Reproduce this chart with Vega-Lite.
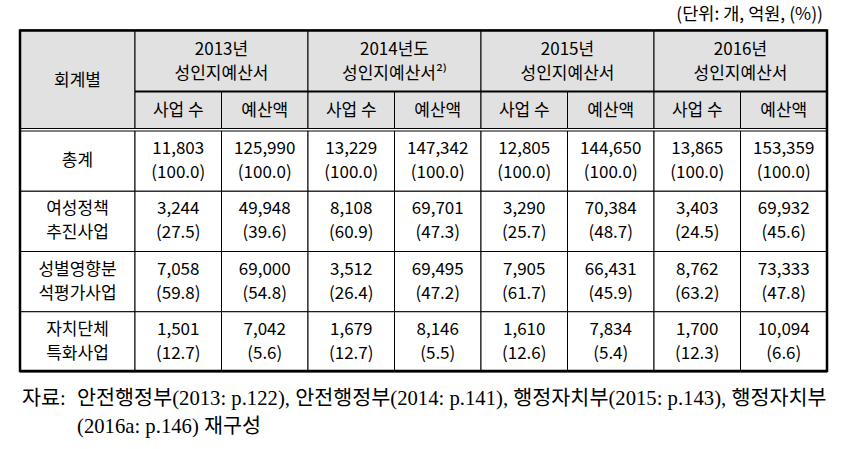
{
  "$schema": "https://vega.github.io/schema/vega-lite/v6.json",
  "width": 846,
  "height": 449,
  "padding": 0,
  "autosize": {"type": "none"},
  "background": "#ffffff",
  "config": {
    "view": {"stroke": null},
    "text": {"font": "Noto Sans CJK KR", "fontSize": 17, "color": "#000000", "baseline": "middle", "lineHeight": 24}
  },
  "datasets": {
    "cells": [
      {"group": "총계", "year": "2013", "measure": "사업 수", "value": 11803, "share": "(100.0)"},
      {"group": "총계", "year": "2013", "measure": "예산액", "value": 125990, "share": "(100.0)"},
      {"group": "총계", "year": "2014", "measure": "사업 수", "value": 13229, "share": "(100.0)"},
      {"group": "총계", "year": "2014", "measure": "예산액", "value": 147342, "share": "(100.0)"},
      {"group": "총계", "year": "2015", "measure": "사업 수", "value": 12805, "share": "(100.0)"},
      {"group": "총계", "year": "2015", "measure": "예산액", "value": 144650, "share": "(100.0)"},
      {"group": "총계", "year": "2016", "measure": "사업 수", "value": 13865, "share": "(100.0)"},
      {"group": "총계", "year": "2016", "measure": "예산액", "value": 153359, "share": "(100.0)"},
      {"group": "여성정책추진사업", "year": "2013", "measure": "사업 수", "value": 3244, "share": "(27.5)"},
      {"group": "여성정책추진사업", "year": "2013", "measure": "예산액", "value": 49948, "share": "(39.6)"},
      {"group": "여성정책추진사업", "year": "2014", "measure": "사업 수", "value": 8108, "share": "(60.9)"},
      {"group": "여성정책추진사업", "year": "2014", "measure": "예산액", "value": 69701, "share": "(47.3)"},
      {"group": "여성정책추진사업", "year": "2015", "measure": "사업 수", "value": 3290, "share": "(25.7)"},
      {"group": "여성정책추진사업", "year": "2015", "measure": "예산액", "value": 70384, "share": "(48.7)"},
      {"group": "여성정책추진사업", "year": "2016", "measure": "사업 수", "value": 3403, "share": "(24.5)"},
      {"group": "여성정책추진사업", "year": "2016", "measure": "예산액", "value": 69932, "share": "(45.6)"},
      {"group": "성별영향분석평가사업", "year": "2013", "measure": "사업 수", "value": 7058, "share": "(59.8)"},
      {"group": "성별영향분석평가사업", "year": "2013", "measure": "예산액", "value": 69000, "share": "(54.8)"},
      {"group": "성별영향분석평가사업", "year": "2014", "measure": "사업 수", "value": 3512, "share": "(26.4)"},
      {"group": "성별영향분석평가사업", "year": "2014", "measure": "예산액", "value": 69495, "share": "(47.2)"},
      {"group": "성별영향분석평가사업", "year": "2015", "measure": "사업 수", "value": 7905, "share": "(61.7)"},
      {"group": "성별영향분석평가사업", "year": "2015", "measure": "예산액", "value": 66431, "share": "(45.9)"},
      {"group": "성별영향분석평가사업", "year": "2016", "measure": "사업 수", "value": 8762, "share": "(63.2)"},
      {"group": "성별영향분석평가사업", "year": "2016", "measure": "예산액", "value": 73333, "share": "(47.8)"},
      {"group": "자치단체특화사업", "year": "2013", "measure": "사업 수", "value": 1501, "share": "(12.7)"},
      {"group": "자치단체특화사업", "year": "2013", "measure": "예산액", "value": 7042, "share": "(5.6)"},
      {"group": "자치단체특화사업", "year": "2014", "measure": "사업 수", "value": 1679, "share": "(12.7)"},
      {"group": "자치단체특화사업", "year": "2014", "measure": "예산액", "value": 8146, "share": "(5.5)"},
      {"group": "자치단체특화사업", "year": "2015", "measure": "사업 수", "value": 1610, "share": "(12.6)"},
      {"group": "자치단체특화사업", "year": "2015", "measure": "예산액", "value": 7834, "share": "(5.4)"},
      {"group": "자치단체특화사업", "year": "2016", "measure": "사업 수", "value": 1700, "share": "(12.3)"},
      {"group": "자치단체특화사업", "year": "2016", "measure": "예산액", "value": 10094, "share": "(6.6)"}
    ],
    "years": [
      {"year": "2013", "label": ["2013년", "성인지예산서"]},
      {"year": "2014", "label": ["2014년도", "성인지예산서²⁾"]},
      {"year": "2015", "label": ["2015년", "성인지예산서"]},
      {"year": "2016", "label": ["2016년", "성인지예산서"]}
    ],
    "groups": [
      {"group": "총계", "label": ["총계"]},
      {"group": "여성정책추진사업", "label": ["여성정책", "추진사업"]},
      {"group": "성별영향분석평가사업", "label": ["성별영향분", "석평가사업"]},
      {"group": "자치단체특화사업", "label": ["자치단체", "특화사업"]}
    ],
    "unit": [{"part": "단위", "text": "(단위: 개, 억원, (%))"}],
    "notes": [
      {"part": "자료:", "text": ["자료:"]},
      {"part": "본문", "text": ["안전행정부(2013: p.122), 안전행정부(2014: p.141), 행정자치부(2015: p.143), 행정자치부", "(2016a: p.146) 재구성"]}
    ]
  },
  "layer": [
    {
      "data": {"values": [{"head": "회계별"}]},
      "encoding": {
        "x": {"field": "head", "type": "nominal", "axis": null, "scale": {"domain": ["회계별"], "range": [20, 135], "paddingInner": 0, "paddingOuter": 0}},
        "y": {"field": "head", "type": "nominal", "axis": null, "scale": {"domain": ["회계별"], "range": [30, 128.5], "paddingInner": 0, "paddingOuter": 0}}
      },
      "layer": [
        {"mark": {"type": "rect", "fill": "#e1e1e1", "stroke": "#000000", "strokeWidth": 1}},
        {"mark": {"type": "text", "dy": 2}, "encoding": {"text": {"field": "head"}}}
      ]
    },
    {
      "data": {"name": "years"},
      "encoding": {
        "x": {"field": "year", "type": "nominal", "axis": null, "scale": {"domain": ["2013", "2014", "2015", "2016"], "range": [135, 827], "paddingInner": 0, "paddingOuter": 0}},
        "y": {"datum": "연도", "type": "nominal", "axis": null, "scale": {"domain": ["연도"], "range": [30, 91.5], "paddingInner": 0, "paddingOuter": 0}}
      },
      "layer": [
        {"mark": {"type": "rect", "fill": "#e1e1e1", "stroke": "#000000", "strokeWidth": 1}},
        {"mark": {"type": "text", "dy": -11}, "encoding": {"text": {"field": "label"}}}
      ]
    },
    {
      "data": {"name": "cells"},
      "transform": [{"filter": {"field": "group", "equal": "총계"}}],
      "encoding": {
        "x": {"field": "year", "type": "nominal", "axis": null, "scale": {"domain": ["2013", "2014", "2015", "2016"], "range": [135, 827], "paddingInner": 0, "paddingOuter": 0}},
        "xOffset": {"field": "measure", "type": "nominal", "scale": {"domain": ["사업 수", "예산액"], "paddingInner": 0, "paddingOuter": 0}},
        "y": {"datum": "구분", "type": "nominal", "axis": null, "scale": {"domain": ["구분"], "range": [91.5, 128.5], "paddingInner": 0, "paddingOuter": 0}}
      },
      "layer": [
        {"mark": {"type": "rect", "fill": "#e1e1e1", "stroke": "#000000", "strokeWidth": 1}},
        {"mark": {"type": "text", "dy": 1}, "encoding": {"text": {"field": "measure"}}}
      ]
    },
    {
      "data": {"name": "years"},
      "mark": {"type": "rect", "fill": "#000000"},
      "encoding": {
        "x": {"field": "year", "type": "nominal", "axis": null, "scale": {"domain": ["2013", "2014", "2015", "2016"], "range": [135, 827], "paddingInner": 0, "paddingOuter": 0}},
        "y": {"datum": "선", "type": "nominal", "axis": null, "scale": {"domain": ["선"], "range": [90.5, 92.5], "paddingInner": 0, "paddingOuter": 0}}
      }
    },
    {
      "data": {"name": "groups"},
      "encoding": {
        "x": {"datum": "회계별", "type": "nominal", "axis": null, "scale": {"domain": ["회계별"], "range": [20, 135], "paddingInner": 0, "paddingOuter": 0}},
        "y": {"field": "group", "type": "nominal", "axis": null, "scale": {"domain": ["총계", "여성정책추진사업", "성별영향분석평가사업", "자치단체특화사업"], "range": [131, 372], "paddingInner": 0, "paddingOuter": 0}}
      },
      "layer": [
        {"mark": {"type": "rect", "fill": "#ffffff", "stroke": "#000000", "strokeWidth": 1}},
        {"transform": [{"filter": {"field": "group", "equal": "총계"}}], "mark": {"type": "text"}, "encoding": {"text": {"field": "label"}}},
        {"transform": [{"filter": {"not": {"field": "group", "equal": "총계"}}}], "mark": {"type": "text", "dy": -12}, "encoding": {"text": {"field": "label"}}}
      ]
    },
    {
      "data": {"name": "cells"},
      "encoding": {
        "x": {"field": "year", "type": "nominal", "axis": null, "scale": {"domain": ["2013", "2014", "2015", "2016"], "range": [135, 827], "paddingInner": 0, "paddingOuter": 0}},
        "xOffset": {"field": "measure", "type": "nominal", "scale": {"domain": ["사업 수", "예산액"], "paddingInner": 0, "paddingOuter": 0}},
        "y": {"field": "group", "type": "nominal", "axis": null, "scale": {"domain": ["총계", "여성정책추진사업", "성별영향분석평가사업", "자치단체특화사업"], "range": [131, 372], "paddingInner": 0, "paddingOuter": 0}}
      },
      "layer": [
        {"mark": {"type": "rect", "fill": "#ffffff", "stroke": "#000000", "strokeWidth": 1}},
        {"mark": {"type": "text", "dy": -12}, "encoding": {"text": {"field": "value", "type": "quantitative", "format": ","}}},
        {"mark": {"type": "text", "dy": 12}, "encoding": {"text": {"field": "share"}}}
      ]
    },
    {
      "data": {"values": [{"t": "표"}]},
      "mark": {"type": "rect", "filled": false, "stroke": "#000000", "strokeWidth": 2.5},
      "encoding": {
        "x": {"field": "t", "type": "nominal", "axis": null, "scale": {"domain": ["표"], "range": [20, 827], "paddingInner": 0, "paddingOuter": 0}},
        "y": {"field": "t", "type": "nominal", "axis": null, "scale": {"domain": ["표"], "range": [30.5, 371], "paddingInner": 0, "paddingOuter": 0}}
      }
    },
    {
      "data": {"name": "unit"},
      "mark": {"type": "text", "align": "right", "fontSize": 17.5},
      "encoding": {
        "x": {"field": "part", "type": "nominal", "axis": null, "scale": {"type": "point", "domain": ["단위"], "range": [20, 823], "padding": 0, "align": 1}},
        "y": {"field": "part", "type": "nominal", "axis": null, "scale": {"domain": ["단위"], "range": [0, 30], "paddingInner": 0, "paddingOuter": 0}},
        "text": {"field": "text"}
      }
    },
    {
      "data": {"name": "notes"},
      "mark": {"type": "text", "align": "left", "baseline": "middle", "font": "Liberation Serif, Noto Sans CJK KR", "fontSize": 20.7, "lineHeight": 28},
      "encoding": {
        "x": {"field": "part", "type": "nominal", "axis": null, "scale": {"type": "point", "domain": ["자료:", "본문"], "range": [22, 77], "padding": 0}},
        "y": {"datum": "주", "type": "nominal", "axis": null, "scale": {"domain": ["주"], "range": [389, 409], "paddingInner": 0, "paddingOuter": 0}},
        "text": {"field": "text"}
      }
    }
  ],
  "resolve": {"scale": {"x": "independent", "y": "independent", "xOffset": "independent"}}
}
